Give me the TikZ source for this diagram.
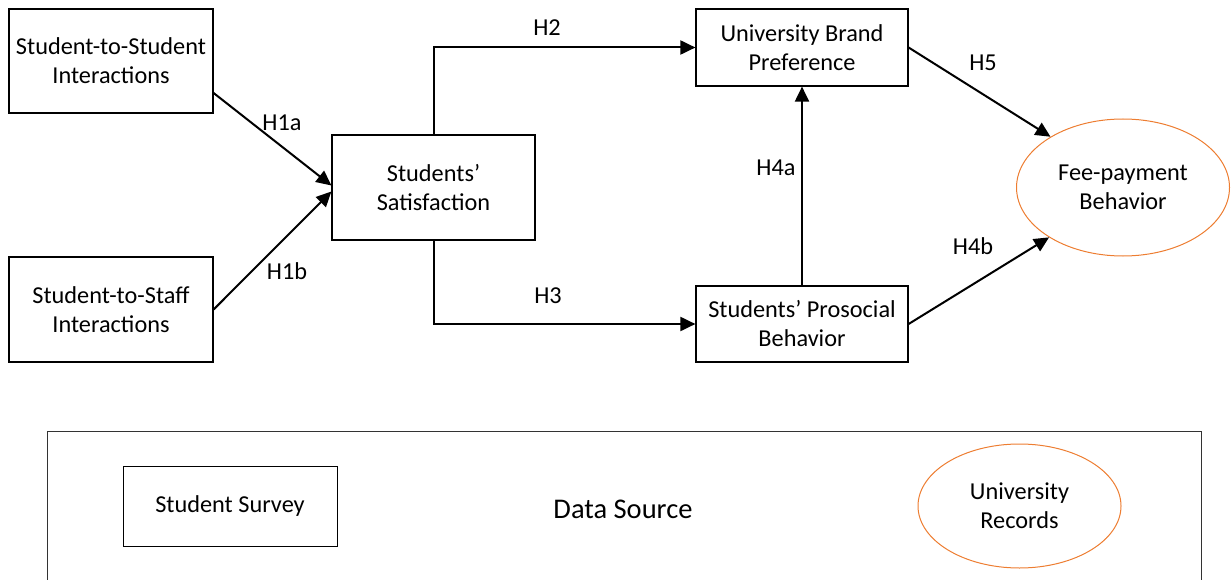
\documentclass[tikz,border=0pt]{standalone}
\usepackage{fontspec}
\setmainfont{Carlito}
\usetikzlibrary{shapes.geometric, arrows.meta, positioning}
\definecolor{accent}{RGB}{237,125,49}

\begin{document}
\begin{tikzpicture}[
    x=1pt, y=1pt,
    % ── Node Styles ──
    varbox/.style={
        rectangle, draw=black, line width=1.2pt,
        text centered, align=center, inner sep=0pt,
        font=\fontsize{24.3}{29}\selectfont
    },
    outcome/.style={
        ellipse, draw=accent, line width=1pt,
        align=center, inner sep=0pt,
        font=\fontsize{24.3}{29}\selectfont
    },
    arrow/.style={-{Triangle[length=15pt, width=14pt]}, line width=2pt, draw=black},
    lbl/.style={font=\fontsize{24.3}{29}\selectfont},
]

\useasboundingbox (0,0) rectangle (1231,-580);

% ════════════════════════════════════════════════════════
%  MODEL: antecedents → satisfaction → mediators → outcome
% ════════════════════════════════════════════════════════

\node (S2S) [varbox, minimum width=204pt, minimum height=104pt] at (111,-61)
    {Student-to-Student\\Interactions};

\node (S2F) [varbox, minimum width=204pt, minimum height=105pt] at (111,-309.5)
    {Student-to-Staff\\Interactions};

\node (SAT) [varbox, minimum width=203pt, minimum height=105pt] at (433.5,-187.5)
    {Students’\\Satisfaction};

\node (UBP) [varbox, minimum width=212pt, minimum height=77pt] at (802,-47.5)
    {University Brand\\Preference};

\node (SPB) [varbox, minimum width=212pt, minimum height=76pt] at (802,-324)
    {Students’ Prosocial\\Behavior};

\node (FPB) [outcome, minimum width=213pt, minimum height=137pt] at (1123,-187.5)
    {Fee-payment\\Behavior};

% ════════════════════════════════════════════════════════
%  DATA SOURCE LEGEND
% ════════════════════════════════════════════════════════

\draw [line width=1pt, draw=black!80] (47,-580) -- (47,-431) -- (1201,-431) -- (1201,-580);

\node (SRV) [varbox, line width=1pt, minimum width=214pt, minimum height=80pt] at (230,-506)
    {Student Survey};

\node (DS) [font=\fontsize{28.5}{34}\selectfont] at (623,-509) {Data Source};

\node (REC) [outcome, minimum width=203pt, minimum height=124pt] at (1019.5,-506)
    {University\\Records};

% ════════════════════════════════════════════════════════
%  ARROWS
% ════════════════════════════════════════════════════════

\draw [arrow] ([yshift=-32pt]S2S.east) -- ([yshift=2pt]SAT.west);
\draw [arrow] (S2F.east) -- ([yshift=-4pt]SAT.west);
\draw [arrow] (SAT.north) |- (UBP.west);
\draw [arrow] (SAT.south) |- (SPB.west);
\draw [arrow] (SPB.north) -- (UBP.south);
\draw [arrow] (UBP.east) -- (FPB.145);
\draw [arrow] (SPB.east) -- (FPB.214);

% Hypothesis labels
\node (L1a) [lbl] at (282,-123) {H1a};
\node (L1b) [lbl] at (287,-271) {H1b};
\node (L2)  [lbl] at (547,-28)  {H2};
\node (L3)  [lbl] at (548,-296) {H3};
\node (L4a) [lbl] at (776,-168) {H4a};
\node (L5)  [lbl] at (983,-63)  {H5};
\node (L4b) [lbl] at (973,-246) {H4b};

\end{tikzpicture}
\end{document}
